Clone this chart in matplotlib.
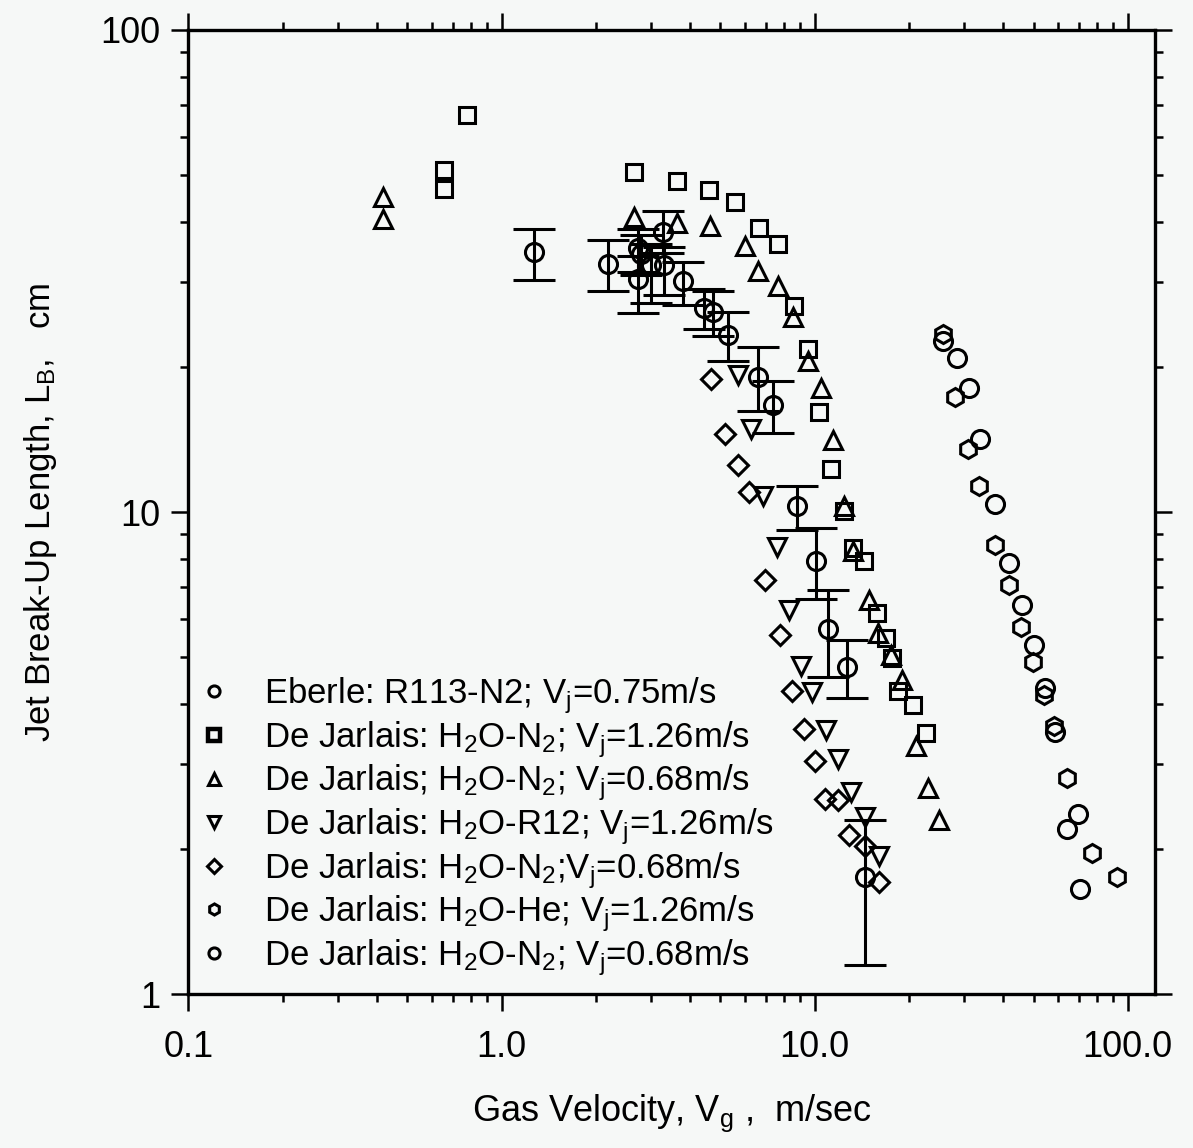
import matplotlib
matplotlib.use("Agg")
import matplotlib.pyplot as plt
from matplotlib.lines import Line2D
from matplotlib.ticker import FixedLocator, FixedFormatter, LogLocator, NullFormatter

plt.rcParams['font.family'] = ['Liberation Sans', 'DejaVu Sans']
plt.rcParams['mathtext.fontset'] = 'custom'
plt.rcParams['mathtext.rm'] = 'Liberation Sans'
plt.rcParams['mathtext.it'] = 'Liberation Sans'
plt.rcParams['mathtext.default'] = 'regular'

# Eberle: R113-N2, Vj = 0.75 m/s (with scatter bands)
eb_vg = [1.27, 2.18, 2.72, 2.78, 2.72, 3.01, 3.29, 3.27, 3.79, 4.42, 4.75, 5.27,
         6.58, 7.34, 8.75, 10.1, 11.0, 12.7, 14.5]
eb_lb = [34.6, 32.7, 35.2, 34.3, 30.4, 32.5, 32.5, 38.0, 30.1, 26.5, 26.0, 23.3,
         19.1, 16.7, 10.3, 7.9, 5.72, 4.77, 1.75]
eb_lo = [30.3, 28.7, 31.5, 31.0, 25.9, 27.1, 28.2, 34.5, 26.9, 24.0, 23.2, 20.6,
         16.2, 14.6, 9.17, 6.59, 4.55, 4.11, 1.15]
eb_hi = [38.7, 36.6, 38.7, 37.5, 34.0, 36.0, 35.5, 42.1, 33.0, 29.0, 28.7, 26.0,
         22.0, 18.7, 11.3, 9.25, 6.88, 5.42, 2.30]

# De Jarlais: H2O-N2, Vj = 1.26 m/s
sq_vg = [0.773, 0.653, 0.653, 2.64, 3.62, 4.58, 5.55, 6.62, 7.62, 8.57, 9.5, 10.3,
         11.25, 12.4, 13.3, 14.4, 15.8, 16.9, 17.7, 18.5, 20.6, 22.6]
sq_lb = [66.7, 51.1, 46.7, 50.6, 48.5, 46.5, 43.9, 38.9, 35.9, 26.7, 21.8, 16.1,
         12.3, 10.07, 8.41, 7.9, 6.17, 5.47, 4.98, 4.25, 3.98, 3.48]

# De Jarlais: H2O-N2, Vj = 0.68 m/s
tu_vg = [0.417, 0.417, 2.64, 3.62, 4.62, 5.97, 6.58, 7.62, 8.51, 9.5, 10.5, 11.4,
         12.4, 13.3, 14.9, 15.9, 17.5, 19.0, 21.0, 23.0, 24.9]
tu_lb = [45.0, 40.5, 41.0, 39.7, 39.2, 35.6, 31.6, 29.4, 25.4, 20.6, 18.1, 14.1,
         10.3, 8.32, 6.56, 5.61, 5.05, 4.48, 3.27, 2.68, 2.30]

# De Jarlais: H2O-R12, Vj = 1.26 m/s
td_vg = [5.71, 6.25, 6.83, 7.57, 8.26, 9.03, 9.78, 10.9, 11.9, 13.1, 14.5, 16.0]
td_lb = [19.2, 14.9, 10.8, 8.45, 6.26, 4.79, 4.23, 3.53, 3.08, 2.63, 2.33, 1.93]

# De Jarlais: H2O-N2, Vj = 0.68 m/s
di_vg = [4.65, 5.16, 5.67, 6.15, 6.92, 7.73, 8.45, 9.23, 10.0, 10.8, 11.9, 12.9,
         14.5, 16.0]
di_lb = [18.9, 14.5, 12.5, 11.0, 7.24, 5.56, 4.26, 3.55, 3.05, 2.54, 2.53, 2.14,
         2.03, 1.71]

# De Jarlais: H2O-He, Vj = 1.26 m/s
hx_vg = [25.6, 28.0, 30.8, 33.4, 37.6, 41.7, 45.5, 49.7, 53.9, 58.0, 63.9, 76.8, 92.2]
hx_lb = [23.4, 17.3, 13.5, 11.3, 8.53, 7.05, 5.77, 4.89, 4.17, 3.60, 2.81, 1.96, 1.75]

# De Jarlais: H2O-N2, Vj = 0.68 m/s (high gas velocity)
ci_vg = [25.6, 28.5, 31.1, 33.7, 37.6, 41.7, 45.8, 50.1, 54.3, 58.5, 69.2, 63.9, 70.3]
ci_lb = [22.6, 20.9, 18.1, 14.2, 10.4, 7.82, 6.41, 5.30, 4.32, 3.49, 2.36, 2.20, 1.65]

labels = [
    "Eberle: R113-N2; V$_j$=0.75m/s",
    "De Jarlais: H$_2$O-N$_2$; V$_j$=1.26m/s",
    "De Jarlais; H$_2$O-N$_2$; V$_j$=0.68m/s",
    "De Jarlais: H$_2$O-R12; V$_j$=1.26m/s",
    "De Jarlais: H$_2$O-N$_2$;V$_j$=0.68m/s",
    "De Jarlais: H$_2$O-He; V$_j$=1.26m/s",
    "De Jarlais: H$_2$O-N$_2$; V$_j$=0.68m/s",
]

bg = '#f6f8f7'
fig = plt.figure(figsize=(11.93, 11.48), dpi=100, facecolor=bg)
ax = fig.add_axes([0.158, 0.134, 0.810, 0.840])
ax.set_facecolor(bg)

lw = 2.2
mkw = dict(linestyle='none', mfc='none', mec='black', mew=lw)

yerr = [[v - l for v, l in zip(eb_lb, eb_lo)], [h - v for v, h in zip(eb_lb, eb_hi)]]
ax.errorbar(eb_vg, eb_lb, yerr=yerr, fmt='o', ms=13, mfc='none', mec='black', mew=lw,
            ecolor='black', elinewidth=lw, capsize=15, capthick=lw, zorder=3)
ax.plot(sq_vg, sq_lb, 's', ms=12, **mkw)
ax.plot(tu_vg, tu_lb, '^', ms=13, **mkw)
ax.plot(td_vg, td_lb, 'v', ms=13, **mkw)
ax.plot(di_vg, di_lb, 'D', ms=10, **mkw)
ax.plot(hx_vg, hx_lb, 'h', ms=13, **mkw)
ax.plot(ci_vg, ci_lb, 'o', ms=13, **mkw)

ax.set_xscale('log')
ax.set_yscale('log')
ax.set_xlim(0.1, 122)
ax.set_ylim(1, 100)

ax.xaxis.set_major_locator(FixedLocator([0.1, 1, 10, 100]))
ax.xaxis.set_major_formatter(FixedFormatter(['0.1', '1.0', '10.0', '100.0']))
ax.yaxis.set_major_locator(FixedLocator([1, 10, 100]))
ax.yaxis.set_major_formatter(FixedFormatter(['1', '10', '100']))
for axis in (ax.xaxis, ax.yaxis):
    axis.set_minor_locator(LogLocator(base=10, subs=range(2, 10)))
    axis.set_minor_formatter(NullFormatter())

ax.tick_params(which='both', direction='out', top=True, right=True, width=1.8)
ax.tick_params(which='major', length=12, labelsize=26)
ax.tick_params(which='minor', length=6)
ax.tick_params(axis='x', which='major', pad=14)
ax.tick_params(axis='y', which='major', pad=8)
for sp in ax.spines.values():
    sp.set_linewidth(2.4)

ax.set_xlabel("Gas Velocity, V$_g$ ,  m/sec", fontsize=26, labelpad=20)
ax.set_ylabel("Jet Break-Up Length, L$_B$,   cm", fontsize=25, labelpad=30)

handles = [
    Line2D([], [], marker='o', ms=8, **mkw),
    Line2D([], [], marker='s', ms=8, linestyle='none', mfc='none', mec='black', mew=3.2),
    Line2D([], [], marker='^', ms=8, **mkw),
    Line2D([], [], marker='v', ms=8, **mkw),
    Line2D([], [], marker='D', ms=7, **mkw),
    Line2D([], [], marker='h', ms=8, **mkw),
    Line2D([], [], marker='o', ms=8, **mkw),
]
ax.legend(handles, labels, loc='lower left', bbox_to_anchor=(0.008, 0.017),
          frameon=False, fontsize=25, handlelength=1.0, handletextpad=0.95,
          labelspacing=0.08, borderpad=0, borderaxespad=0)

fig.savefig('out.png', dpi=100, facecolor=bg)
